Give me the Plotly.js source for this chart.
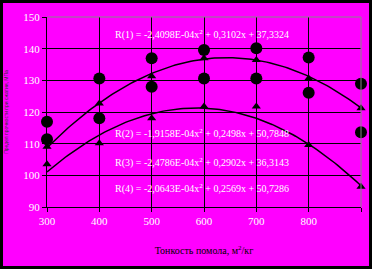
<!DOCTYPE html>
<html>
<head>
<meta charset="utf-8">
<script src="https://cdn.plot.ly/plotly-3.0.1.min.js"></script>
<style>
  html, body { margin: 0; padding: 0; background: #000; }
  #frame { position: absolute; left: 3px; top: 3px; width: 366px; height: 263px; }
</style>
</head>
<body>
<div id="frame"></div>
<script>
// ---- data ----
const fineness = [300, 400, 500, 600, 700, 800, 900];
const circlesUpper = [116.9, 130.6, 137.0, 139.6, 140.1, 137.2, 128.9];
const circlesLower = [111.4, 118.0, 128.0, 130.6, 130.6, 126.1, 113.6];
const trianglesUpper = [109.0, 122.7, 131.3, 137.0, 136.4, 130.6, 121.2];
const trianglesLower = [103.5, 110.1, 118.0, 121.7, 121.7, 109.6, 96.4];

// trend equations R(i) = a*x^2 + b*x + c
const eqNames = ['R(1)', 'R(2)', 'R(3)', 'R(4)'];
const eqA = ['2,4098', '1,9158', '2,4786', '2,0643'];
const eqB = ['0,3102', '0,2498', '0,2902', '0,2569'];
const eqC = ['37,3324', '50,7848', '36,3143', '50,7286'];
const drawnCurves = [0, 2]; // R(1) and R(3) are drawn

const xTicks = [300, 400, 500, 600, 700, 800, 900];
const yTicks = [90, 100, 110, 120, 130, 140, 150];

const num = s => parseFloat(s.replace(',', '.'));

const traces = [];
drawnCurves.forEach(i => {
  const a = -num(eqA[i]) * 1e-4, b = num(eqB[i]), c = num(eqC[i]);
  const xs = [], ys = [];
  for (let x = fineness[0]; x <= fineness[fineness.length - 1]; x += 5) {
    xs.push(x); ys.push(a * x * x + b * x + c);
  }
  traces.push({x: xs, y: ys, mode: 'lines', line: {color: '#000', width: 1.5}, hoverinfo: 'skip', cliponaxis: false});
});
[circlesUpper, circlesLower].forEach(s => traces.push({
  x: fineness, y: s, mode: 'markers', cliponaxis: false,
  marker: {symbol: 'circle', size: 12, color: '#000'}
}));
[trianglesUpper, trianglesLower].forEach(s => traces.push({
  x: fineness, y: s, mode: 'markers', cliponaxis: false,
  marker: {symbol: 'triangle-up', size: 8, color: '#000'}
}));

const eqY = [144.6, 113.1, 104.2, 96.0];
const annotations = eqNames.map((n, i) => ({
  xref: 'x', yref: 'y', x: 597, y: eqY[i], showarrow: false,
  text: n + ' = -' + eqA[i] + 'E-04x<sup>2</sup> + ' + eqB[i] + 'x + ' + eqC[i],
  font: {family: 'Liberation Serif', size: 10, color: '#fff'}
}));

const layout = {
  width: 366, height: 263,
  margin: {l: 44, r: 8, t: 14, b: 59},
  paper_bgcolor: '#ff00ff', plot_bgcolor: '#ff00ff',
  showlegend: false,
  xaxis: {
    range: [300, 900], tickvals: xTicks, ticktext: xTicks.map(String),
    showgrid: true, gridcolor: '#000', gridwidth: 1, zeroline: false,
    showline: true, linecolor: '#000', linewidth: 1,
    ticks: 'outside', ticklen: 4, tickcolor: '#000',
    tickfont: {family: 'Liberation Serif', size: 11, color: '#fff'},
    title: {text: 'Тонкость помола, м<sup>2</sup>/кг', standoff: 20,
            font: {family: 'Liberation Serif', size: 10, color: '#000'}}
  },
  yaxis: {
    range: [90, 150], tickvals: yTicks, ticktext: yTicks.map(String),
    showgrid: true, gridcolor: '#000', gridwidth: 1, zeroline: false,
    showline: true, linecolor: '#000', linewidth: 1,
    ticks: 'outside', ticklen: 4, tickcolor: '#000',
    tickfont: {family: 'Liberation Serif', size: 11, color: '#fff'},
    title: {text: 'Предел прочности при сжатии, МПа', standoff: 24,
            font: {family: 'Liberation Sans', size: 5, color: '#333'}}
  },
  shapes: [
    {type: 'line', xref: 'paper', yref: 'paper', x0: 0, x1: 1, y0: 1, y1: 1, line: {color: '#888', width: 1}},
    {type: 'line', xref: 'paper', yref: 'paper', x0: 1, x1: 1, y0: 0, y1: 1, line: {color: '#888', width: 1}}
  ],
  annotations: annotations
};

Plotly.newPlot('frame', traces, layout, {displayModeBar: false, staticPlot: true});
</script>
</body>
</html>
